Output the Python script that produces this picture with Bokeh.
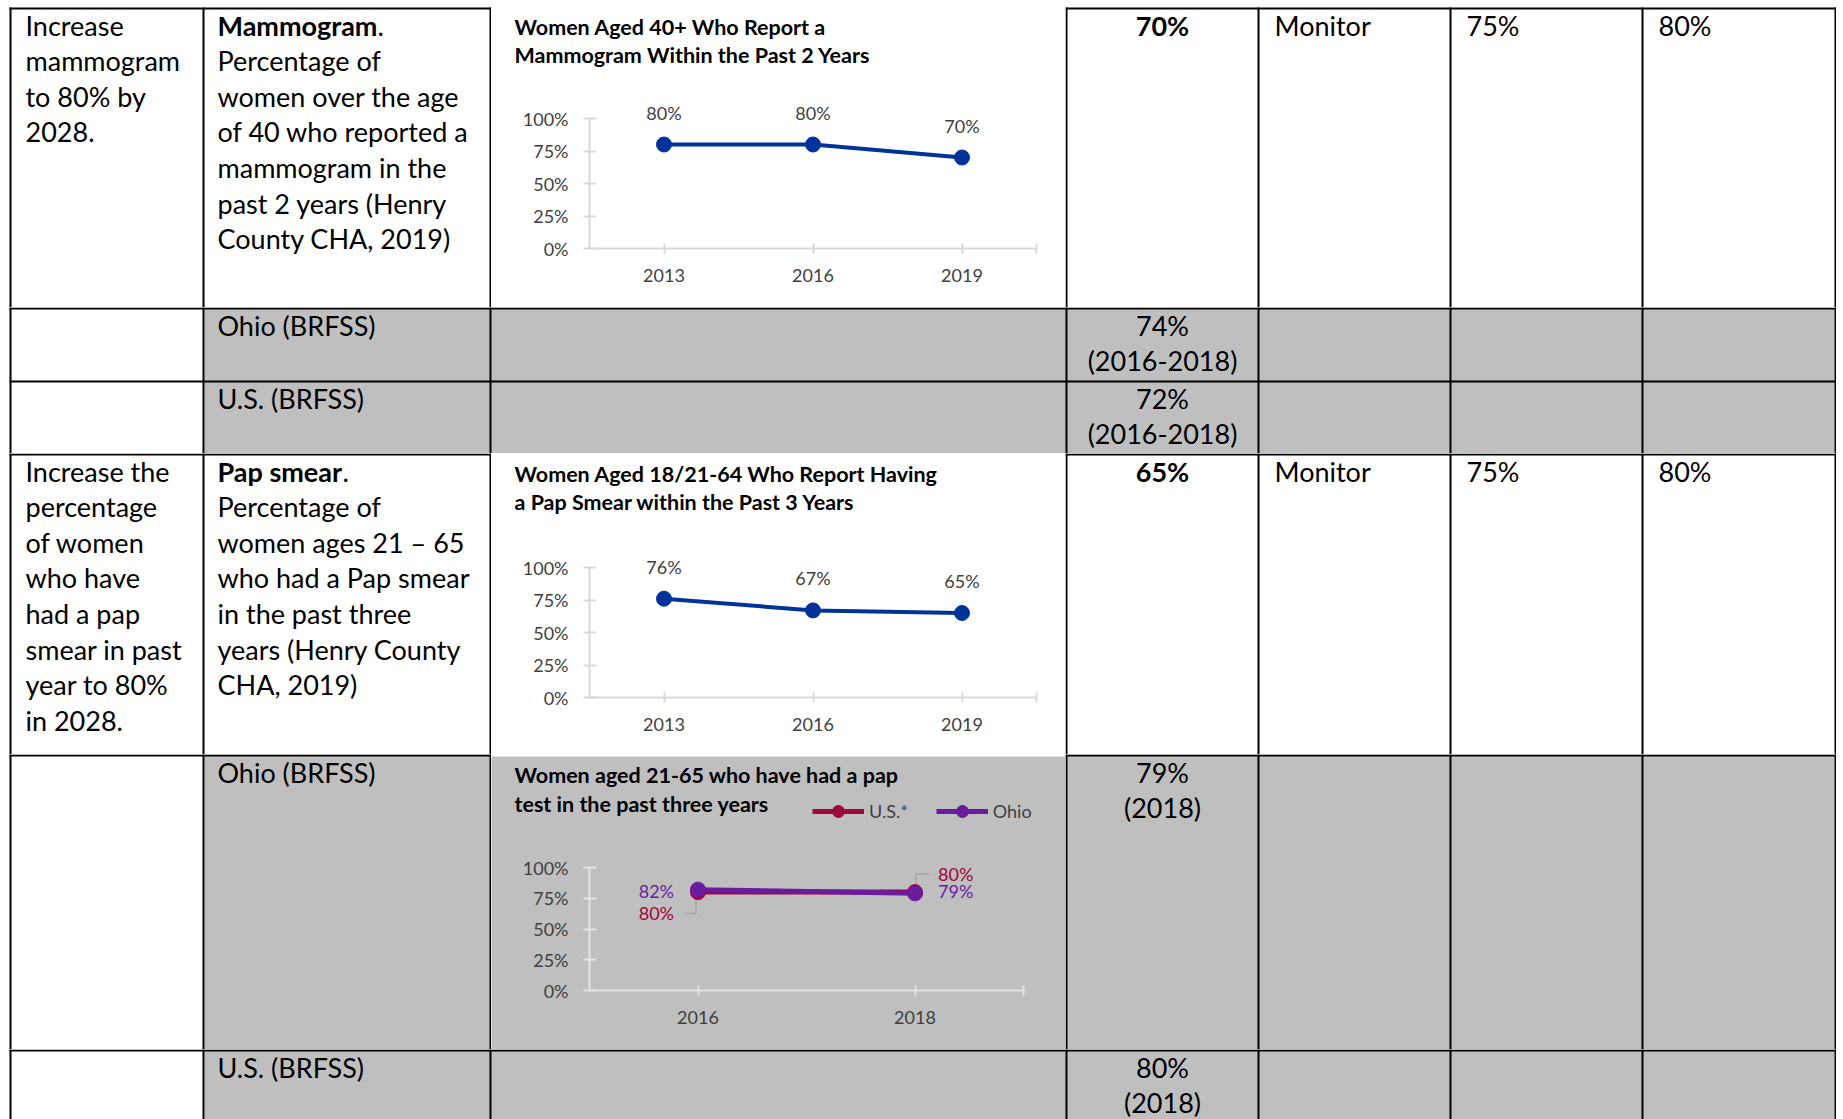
from bokeh.plotting import figure
from bokeh.layouts import column, row
from bokeh.models import (Range1d, ColumnDataSource, LabelSet, Label, FixedTicker,
                          PrintfTickFormatter, Legend, LegendItem)
from bokeh.embed import file_html
from bokeh.resources import INLINE
from bokeh.core.properties import value

# ------------------------------------------------------------------ data
mammo_years = ["2013", "2016", "2019"]
mammo_values = [80, 80, 70]
mammo_title = ["Women Aged 40+ Who Report a", "Mammogram Within the Past 2 Years"]

pap_years = ["2013", "2016", "2019"]
pap_values = [76, 67, 65]
pap_title = ["Women Aged 18/21-64 Who Report Having", "a Pap Smear within the Past 3 Years"]

brfss_years = ["2016", "2018"]
brfss_us = [80, 80]
brfss_ohio = [82, 79]
brfss_title = ["Women aged 21-65 who have had a pap", "test in the past three years"]
brfss_series = ["U.S.*", "Ohio"]

y_ticks = [0, 25, 50, 75, 100]

mammo_goal = ["Increase", "mammogram", "to 80% by", "2028."]
mammo_head = "Mammogram"
mammo_desc = ["Percentage of", "women over the age", "of 40 who reported a",
              "mammogram in the", "past 2 years (Henry", "County CHA, 2019)"]
mammo_current = "70%"
mammo_status = "Monitor"
mammo_target1 = "75%"
mammo_target2 = "80%"
mammo_ohio_label = "Ohio (BRFSS)"
mammo_ohio = ["74%", "(2016-2018)"]
mammo_us_label = "U.S. (BRFSS)"
mammo_us = ["72%", "(2016-2018)"]

pap_goal = ["Increase the", "percentage", "of women", "who have", "had a pap",
            "smear in past", "year to 80%", "in 2028."]
pap_head = "Pap smear"
pap_desc = ["Percentage of", "women ages 21 \u2013 65", "who had a Pap smear",
            "in the past three", "years (Henry County", "CHA, 2019)"]
pap_current = "65%"
pap_status = "Monitor"
pap_target1 = "75%"
pap_target2 = "80%"
pap_ohio_label = "Ohio (BRFSS)"
pap_ohio = ["79%", "(2018)"]
pap_us_label = "U.S. (BRFSS)"
pap_us = ["80%", "(2018)"]

# ------------------------------------------------------------------ style / layout (page px)
FONT = "Lato"
BODY = "27px"
TICK = "18px"
TITLE = "21.5px"
GRAY = "#BFBFBF"
AXIS = "#D9D9D9"
AXIS_G = "#E4E4E4"
LEADER = "#A6A6A6"
TXT2 = "#404040"
BLUE = "#003399"
US_C = "#A0063C"
OH_C = "#6A1B9E"

W, H = 1836, 1119
LW = 2
VX = [9, 202, 489, 1065, 1257, 1449, 1641, 1834]   # left edges of vertical rules
HY = [7, 307, 380, 453, 754, 1049]                 # top edges of horizontal rules
XL, XR = VX[0], VX[7] + LW
CX0, CX1 = VX[2] + LW, VX[3]                       # chart column 491..1065
LEAD = 35.6
BASE = 28
COL1_X, COL2_X = 25, 217
C4_X = (VX[3] + LW + VX[4]) / 2
C5_X, C6_X, C7_X = 1274, 1466, 1658
TITLE_X = 514
TITLE_DY = 9


def panel(x0, x1, y0, y1, bg="white"):
    p = figure(width=x1 - x0, height=y1 - y0,
               x_range=Range1d(x0, x1), y_range=Range1d(y1, y0),
               x_axis_location=None, y_axis_location=None,
               output_backend="svg", toolbar_location=None,
               min_border=0, outline_line_color=None,
               background_fill_color=bg, border_fill_color=bg)
    p.xgrid.visible = False
    p.ygrid.visible = False
    return p


def fill(p, x0, x1, y0, y1, color):
    p.quad(left=x0, right=x1, top=y0, bottom=y1, fill_color=color, line_color=None)


def vrules(p, xs, y0, y1):
    for x in xs:
        p.quad(left=x, right=x + LW, top=y0, bottom=y1, fill_color="black", line_color=None)


def hrule(p, x0, x1, y):
    p.quad(left=x0, right=x1, top=y, bottom=y + LW, fill_color="black", line_color=None)


def put(p, x, y, texts, bold=False, align="left"):
    n = len(texts)
    src = ColumnDataSource(dict(x=[x] * n, y=[y + i * LEAD for i in range(n)], t=list(texts)))
    p.add_layout(LabelSet(x="x", y="y", text="t", source=src,
                          text_font=value(FONT), text_font_size=BODY,
                          text_font_style="bold" if bold else "normal",
                          text_align=align, text_baseline="alphabetic",
                          text_color="black"))


def cap(width, height, rule_top):
    p = panel(0, width, 0, height)
    hrule(p, 0, width, rule_top)
    return p


def chart(cell_top, cell_bot, ax_l, ax_r, y0_px, y100_px, bg, axc, years, title, title_y):
    n = len(years)
    w, h = CX1 - CX0, cell_bot - cell_top
    step = (ax_r - ax_l) / n
    upx = (y0_px - y100_px) / 100.0
    xr = Range1d(-0.5 - (ax_l - CX0) / step, n - 0.5 + (CX1 - ax_r) / step)
    yr = Range1d(-(cell_bot - y0_px) / upx, 100 + (y100_px - cell_top) / upx)
    p = figure(width=w, height=h, x_range=xr, y_range=yr,
               output_backend="svg", toolbar_location=None, min_border=0,
               outline_line_color=None, background_fill_color=bg, border_fill_color=bg)
    p.xgrid.visible = False
    p.ygrid.visible = False
    xa, ya = p.xaxis[0], p.yaxis[0]
    xa.fixed_location = 0
    ya.fixed_location = -0.5
    xa.bounds = (-0.5, n - 0.5)
    ya.bounds = (0, 100)
    xa.ticker = FixedTicker(ticks=list(range(n)) + [n - 0.5])
    ov = {i: y for i, y in enumerate(years)}
    ov[n - 0.5] = ""
    xa.major_label_overrides = ov
    ya.ticker = FixedTicker(ticks=y_ticks)
    ya.formatter = PrintfTickFormatter(format="%d%%")
    for ax, tin, tout in ((xa, 5, 5), (ya, 7, 6)):
        ax.axis_line_color = axc
        ax.axis_line_width = 2
        ax.major_tick_line_color = axc
        ax.major_tick_line_width = 2
        ax.major_tick_in = tin
        ax.major_tick_out = tout
        ax.minor_tick_line_color = None
        ax.major_label_text_font = FONT
        ax.major_label_text_font_size = TICK
        ax.major_label_text_color = TXT2
    xa.major_label_standoff = 15
    ya.major_label_standoff = 15
    for s, ty in zip(title, title_y):
        p.add_layout(Label(x=TITLE_X - CX0, y=cell_bot - ty + TITLE_DY,
                           x_units="screen", y_units="screen",
                           text=s, text_font=FONT, text_font_style="bold",
                           text_font_size=TITLE, text_color="black",
                           text_baseline="alphabetic"))
    return p, step, upx


def single_series(p, values):
    src = ColumnDataSource(dict(x=list(range(len(values))), y=values,
                                lab=["%d%%" % v for v in values]))
    p.line("x", "y", source=src, line_color=BLUE, line_width=4)
    p.scatter("x", "y", source=src, size=15, fill_color=BLUE, line_color=BLUE)
    p.add_layout(LabelSet(x="x", y="y", text="lab", source=src, y_offset=25,
                          text_align="center", text_baseline="alphabetic",
                          text_font=value(FONT), text_font_size=TICK, text_color=TXT2))


# ------------------------------------------------------------------ band A (row 1)
A0, A1 = 0, HY[1]
R1 = HY[0]
la = panel(0, CX0, A0, A1)
hrule(la, XL, CX0, R1)
vrules(la, VX[0:3], R1, A1)
put(la, COL1_X, R1 + BASE, mammo_goal)
put(la, COL2_X, R1 + BASE, [mammo_head], bold=True)
put(la, COL2_X + 160, R1 + BASE, ["."])
put(la, COL2_X, R1 + BASE + LEAD, mammo_desc)

ra = panel(CX1, W, A0, A1)
hrule(ra, CX1, XR, R1)
vrules(ra, VX[3:], R1, A1)
put(ra, C4_X, R1 + BASE, [mammo_current], bold=True, align="center")
put(ra, C5_X, R1 + BASE, [mammo_status])
put(ra, C6_X, R1 + BASE, [mammo_target1])
put(ra, C7_X, R1 + BASE, [mammo_target2])

c1, _, _ = chart(R1 + LW, A1, 589, 1036, 248, 118, "white", AXIS,
                 mammo_years, mammo_title, [35, 63])
single_series(c1, mammo_values)
band_a = row(la, column(cap(CX1 - CX0, R1 + LW, R1), c1), ra)

# ------------------------------------------------------------------ band B (rows 2-3)
B0, B1 = HY[1], HY[3]
pb = panel(0, W, B0, B1)
fill(pb, VX[1] + LW, VX[7], B0, B1, GRAY)
hrule(pb, XL, XR, HY[1])
hrule(pb, XL, XR, HY[2])
vrules(pb, VX, B0, B1)
put(pb, COL2_X, HY[1] + BASE, [mammo_ohio_label])
put(pb, C4_X, HY[1] + BASE, mammo_ohio, align="center")
put(pb, COL2_X, HY[2] + BASE, [mammo_us_label])
put(pb, C4_X, HY[2] + BASE, mammo_us, align="center")

# ------------------------------------------------------------------ band C (row 4)
C0, C1 = HY[3], HY[4]
lc = panel(0, CX0, C0, C1)
hrule(lc, XL, CX0, C0)
vrules(lc, VX[0:3], C0, C1)
put(lc, COL1_X, C0 + BASE, pap_goal)
put(lc, COL2_X, C0 + BASE, [pap_head], bold=True)
put(lc, COL2_X + 125, C0 + BASE, ["."])
put(lc, COL2_X, C0 + BASE + LEAD, pap_desc)

rc = panel(CX1, W, C0, C1)
hrule(rc, CX1, XR, C0)
vrules(rc, VX[3:], C0, C1)
put(rc, C4_X, C0 + BASE, [pap_current], bold=True, align="center")
put(rc, C5_X, C0 + BASE, [pap_status])
put(rc, C6_X, C0 + BASE, [pap_target1])
put(rc, C7_X, C0 + BASE, [pap_target2])

c2, _, _ = chart(C0 + LW, C1, 589, 1036, 697, 567, "white", AXIS,
                 pap_years, pap_title, [482, 510])
single_series(c2, pap_values)
band_c = row(lc, column(cap(CX1 - CX0, LW, 0), c2), rc)

# ------------------------------------------------------------------ band D (row 5)
D0, D1 = HY[4], HY[5]
ld = panel(0, CX0, D0, D1)
fill(ld, VX[1] + LW, CX0, D0, D1, GRAY)
hrule(ld, XL, CX0, D0)
vrules(ld, VX[0:3], D0, D1)
put(ld, COL2_X, D0 + BASE, [pap_ohio_label])

rd = panel(CX1, W, D0, D1)
fill(rd, CX1, VX[7], D0, D1, GRAY)
hrule(rd, CX1, XR, D0)
vrules(rd, VX[3:], D0, D1)
put(rd, C4_X, D0 + BASE, pap_ohio, align="center")

c3, sx3, sy3 = chart(D0 + LW, D1, 589, 1023, 990, 867, GRAY, AXIS_G,
                     brfss_years, brfss_title, [783, 812])
xs = list(range(len(brfss_years)))

# leader lines from the offset U.S. labels back to their points (pixel offsets -> data units)
lead_px = [[(-13.5, 21.5), (-2, 21.5), (-2, 2)], [(14, -18), (1, -18), (1, -5)]]
lead_x = [[xs[i] + dx / sx3 for dx, dy in pts] for i, pts in enumerate(lead_px)]
lead_y = [[brfss_us[i] - dy / sy3 for dx, dy in pts] for i, pts in enumerate(lead_px)]
c3.multi_line(lead_x, lead_y, line_color=LEADER, line_width=1.5)

src_us = ColumnDataSource(dict(x=xs, y=brfss_us, lab=["%d%%" % v for v in brfss_us],
                               dx=[-24, 23], dy=[-28, 11], al=["right", "left"]))
src_oh = ColumnDataSource(dict(x=xs, y=brfss_ohio, lab=["%d%%" % v for v in brfss_ohio],
                               dx=[-24, 23], dy=[-8, -5], al=["right", "left"]))
us_l = c3.line("x", "y", source=src_us, line_color=US_C, line_width=5)
us_m = c3.scatter("x", "y", source=src_us, size=15, fill_color=US_C, line_color=US_C)
oh_l = c3.line("x", "y", source=src_oh, line_color=OH_C, line_width=5)
oh_m = c3.scatter("x", "y", source=src_oh, size=15, fill_color=OH_C, line_color=OH_C)
for src, col in ((src_us, US_C), (src_oh, OH_C)):
    c3.add_layout(LabelSet(x="x", y="y", text="lab", source=src, x_offset="dx", y_offset="dy",
                           text_align="al", text_baseline="alphabetic",
                           text_font=value(FONT), text_font_size=TICK, text_color=col))
leg = Legend(items=[LegendItem(label=brfss_series[0], renderers=[us_l, us_m]),
                    LegendItem(label=brfss_series[1], renderers=[oh_l, oh_m])],
             location=(812 - CX0, D1 - 826), orientation="horizontal",
             glyph_width=52, glyph_height=30, label_standoff=5, spacing=28,
             padding=0, margin=0, border_line_color=None, background_fill_alpha=0,
             label_text_font=FONT, label_text_font_size=TICK, label_text_color=TXT2)
c3.add_layout(leg)
band_d = row(ld, column(cap(CX1 - CX0, LW, 0), c3), rd)

# ------------------------------------------------------------------ band E (row 6)
E0, E1 = HY[5], H
pe = panel(0, W, E0, E1)
fill(pe, VX[1] + LW, VX[7], E0, E1, GRAY)
hrule(pe, XL, XR, E0)
vrules(pe, VX, E0, E1)
put(pe, COL2_X, E0 + BASE, [pap_us_label])
put(pe, C4_X, E0 + BASE, pap_us, align="center")

page = column(band_a, pb, band_c, band_d, pe)
open("out.html", "w").write(file_html(page, INLINE))
